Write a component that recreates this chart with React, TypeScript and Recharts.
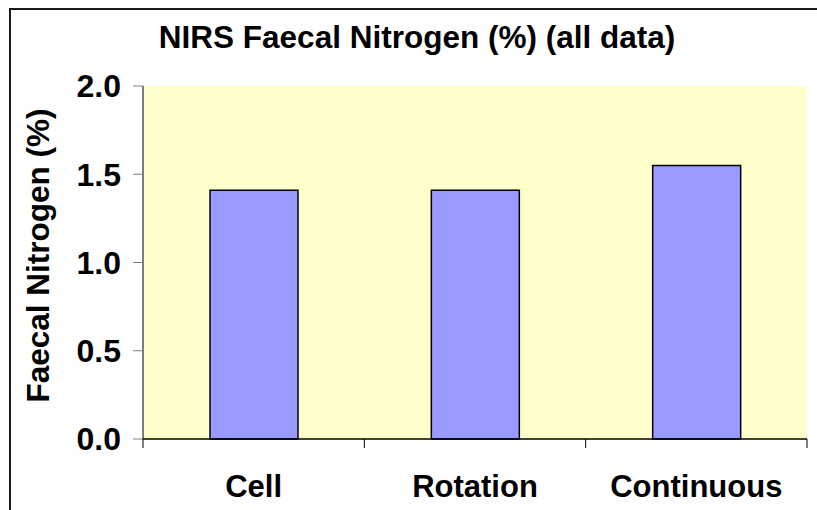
import { BarChart, Bar, XAxis, YAxis, CartesianGrid } from 'recharts';

const categories = ['Cell', 'Rotation', 'Continuous'];
const nitrogenValues = [1.41, 1.41, 1.55];
const yTicks = [0, 0.5, 1.0, 1.5, 2.0];

const data = categories.map((name, i) => ({ name, value: nitrogenValues[i] }));

const FONT = '"Liberation Sans", Arial, Helvetica, sans-serif';
const LABEL_GAP = 36;
const TICK_LEN = 9;

function YTitle({ viewBox }: any) {
  const cx = viewBox.x + 38;
  const cy = viewBox.y + viewBox.height / 2 - 7;
  return (
    <text
      x={cx}
      y={cy}
      transform={`rotate(-90, ${cx}, ${cy})`}
      textAnchor="middle"
      dominantBaseline="central"
      fontFamily={FONT}
      fontSize={31.5}
      fontWeight={700}
      fill="#000"
    >
      Faecal Nitrogen (%)
    </text>
  );
}

// category label plus Excel-style tick marks on the band edges
function CategoryTick(props: any) {
  const { x, y, payload, index, visibleTicksCount } = props;
  const half = payload?.offset ?? 0;
  const axisY = y - LABEL_GAP;
  const left = x - half;
  const right = x + half;
  const isLast = index === visibleTicksCount - 1;
  return (
    <g>
      <line x1={left} x2={left} y1={axisY} y2={axisY + TICK_LEN} stroke="#000" />
      {isLast && <line x1={right} x2={right} y1={axisY} y2={axisY + TICK_LEN} stroke="#000" />}
      <text
        x={x}
        y={y}
        dy="0.71em"
        textAnchor="middle"
        fontFamily={FONT}
        fontSize={31}
        fontWeight={700}
        fill="#000"
      >
        {payload.value}
      </text>
    </g>
  );
}

export default function App() {
  return (
    <div style={{ position: 'fixed', left: 0, top: 0, width: 817, height: 510, overflow: 'hidden', background: '#fff' }}>
      {/* chart area frame, runs off the right and bottom like the source */}
      <div
        style={{
          position: 'absolute',
          left: 9,
          top: 8,
          width: 900,
          height: 600,
          borderLeft: '2px solid #1a1a1a',
          borderTop: '2px solid #1a1a1a',
          boxSizing: 'border-box',
        }}
      />
      <div
        style={{
          position: 'absolute',
          left: 17,
          top: 22,
          width: 800,
          textAlign: 'center',
          whiteSpace: 'nowrap',
          fontFamily: FONT,
          fontSize: 31.5,
          fontWeight: 700,
          lineHeight: '30px',
          color: '#000',
        }}
      >
        NIRS Faecal Nitrogen (%) (all data)
      </div>
      <div style={{ position: 'absolute', left: 0, top: 0 }}>
        <BarChart width={817} height={510} data={data} margin={{ top: 86, right: 10, bottom: 0, left: 0 }}>
          <CartesianGrid xAxisId="cat" yAxisId="left" horizontal={false} vertical={false} fill="#FFFFCC" />
          <XAxis
            xAxisId="cat"
            dataKey="name"
            height={71}
            tickLine={false}
            tickSize={0}
            tickMargin={LABEL_GAP}
            axisLine={{ stroke: '#000', strokeWidth: 1.5 }}
            tick={<CategoryTick />}
            interval={0}
          />
          <XAxis xAxisId="top" orientation="top" height={0} tick={false} tickLine={false} axisLine={{ stroke: '#808080' }} />
          <YAxis
            yAxisId="left"
            width={143}
            domain={[0, 2]}
            ticks={yTicks}
            tickSize={10}
            tickMargin={12}
            tickFormatter={(v: number) => v.toFixed(1)}
            tickLine={{ stroke: '#808080' }}
            axisLine={{ stroke: '#000' }}
            tick={{ fill: '#000', fontSize: 32, fontWeight: 700, fontFamily: FONT }}
            label={{ content: YTitle }}
          />
          <YAxis yAxisId="right" orientation="right" width={0} tick={false} tickLine={false} axisLine={{ stroke: '#808080' }} />
          <Bar
            xAxisId="cat"
            yAxisId="left"
            dataKey="value"
            barSize={88}
            fill="#9999FF"
            stroke="#000"
            strokeWidth={1.5}
            isAnimationActive={false}
          />
        </BarChart>
      </div>
    </div>
  );
}
